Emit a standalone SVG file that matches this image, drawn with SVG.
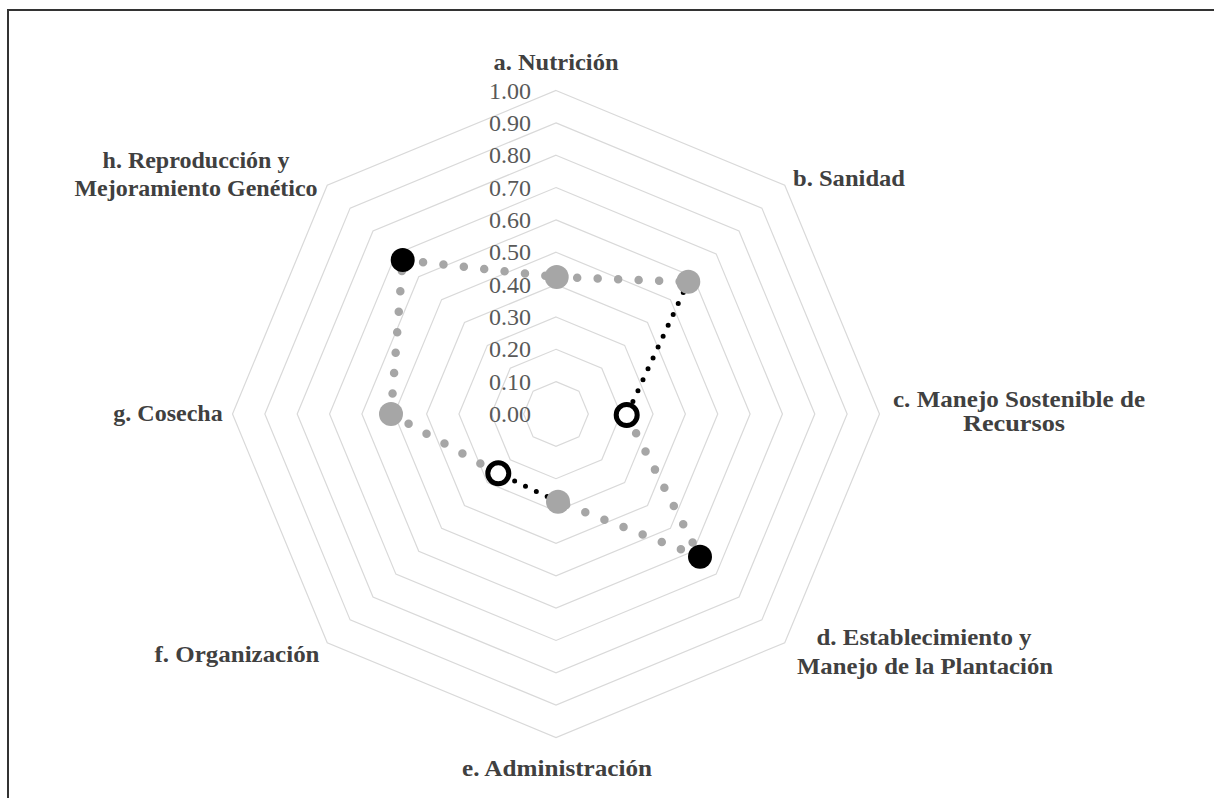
<svg xmlns="http://www.w3.org/2000/svg" width="1214" height="798" viewBox="0 0 1214 798">
<style>
.grid{fill:none;stroke:#d9d9d9;stroke-width:1.2}
.tick{font-family:"Liberation Serif",serif;font-size:24px;fill:#595959;text-anchor:end}
.lbl{font-family:"Liberation Serif",serif;font-size:24px;font-weight:bold;fill:#404040;text-anchor:middle}
.gline{fill:none;stroke:#a6a6a6;stroke-width:8.5;stroke-linecap:round;stroke-dasharray:0 20.5}
.bline{fill:none;stroke:#000;stroke-width:5;stroke-linecap:round;stroke-dasharray:0 12}
.gm{fill:#a6a6a6}
.bm{fill:#000}
.om{fill:#fff;stroke:#000;stroke-width:5}
</style>
<rect width="1214" height="798" fill="#fff"/>
<path d="M8,798 V10 H1214" fill="none" stroke="#333" stroke-width="2"/>
<g id="grid">
<polygon class="grid" points="556,381.65 578.88,391.13 588.35,414 578.88,436.88 556,446.35 533.13,436.88 523.65,414 533.13,391.13"/>
<polygon class="grid" points="556,349.3 601.75,368.25 620.7,414 601.75,459.75 556,478.7 510.25,459.75 491.3,414 510.25,368.25"/>
<polygon class="grid" points="556,316.95 624.62,345.38 653.05,414 624.62,482.62 556,511.05 487.38,482.62 458.95,414 487.38,345.38"/>
<polygon class="grid" points="556,284.6 647.5,322.5 685.4,414 647.5,505.5 556,543.4 464.5,505.5 426.6,414 464.5,322.5"/>
<polygon class="grid" points="556,252.25 670.37,299.63 717.75,414 670.37,528.37 556,575.75 441.63,528.37 394.25,414 441.63,299.63"/>
<polygon class="grid" points="556,219.9 693.25,276.75 750.1,414 693.25,551.25 556,608.1 418.75,551.25 361.9,414 418.75,276.75"/>
<polygon class="grid" points="556,187.55 716.12,253.88 782.45,414 716.12,574.12 556,640.45 395.88,574.12 329.55,414 395.88,253.88"/>
<polygon class="grid" points="556,155.2 739,231 814.8,414 739,597 556,672.8 373,597 297.2,414 373,231"/>
<polygon class="grid" points="556,122.85 761.87,208.13 847.15,414 761.87,619.87 556,705.15 350.13,619.87 264.85,414 350.13,208.13"/>
<polygon class="grid" points="556,90.5 784.75,185.25 879.5,414 784.75,642.75 556,737.5 327.25,642.75 232.5,414 327.25,185.25"/>
</g>
<g id="ticks">
<text class="tick" x="531" y="422">0.00</text>
<text class="tick" x="531" y="389.6">0.10</text>
<text class="tick" x="531" y="357.3">0.20</text>
<text class="tick" x="531" y="325">0.30</text>
<text class="tick" x="531" y="292.6">0.40</text>
<text class="tick" x="531" y="260.2">0.50</text>
<text class="tick" x="531" y="227.9">0.60</text>
<text class="tick" x="531" y="195.5">0.70</text>
<text class="tick" x="531" y="163.2">0.80</text>
<text class="tick" x="531" y="130.8">0.90</text>
<text class="tick" x="531" y="98.5">1.00</text>
</g>
<g id="connectors">
<line class="gline" x1="402.7" y1="260" x2="556.7" y2="277"/>
<line class="gline" x1="556.7" y1="277" x2="688.3" y2="281.7"/>
<line class="bline" x1="688.3" y1="281.7" x2="626.7" y2="415"/>
<line class="gline" x1="626.7" y1="415" x2="700" y2="556.7"/>
<line class="gline" x1="700" y1="556.7" x2="558" y2="501.7"/>
<line class="bline" x1="558" y1="501.7" x2="498.3" y2="473.3"/>
<line class="gline" x1="498.3" y1="473.3" x2="391" y2="414"/>
<line class="gline" x1="391" y1="414" x2="402.7" y2="260"/>
</g>
<g id="node-a"><circle class="gm" cx="556.7" cy="277" r="12"/><text class="lbl" x="556" y="70" textLength="125" lengthAdjust="spacingAndGlyphs">a. Nutrición</text></g>
<g id="node-b"><circle class="gm" cx="688.3" cy="281.7" r="12"/><text class="lbl" x="849" y="186" textLength="112" lengthAdjust="spacingAndGlyphs">b. Sanidad</text></g>
<g id="node-c"><circle class="om" cx="626.7" cy="415" r="10.5"/><text class="lbl" x="1019" y="407" textLength="252" lengthAdjust="spacingAndGlyphs">c. Manejo Sostenible de</text><text class="lbl" x="1014" y="431" textLength="102" lengthAdjust="spacingAndGlyphs">Recursos</text></g>
<g id="node-d"><circle class="bm" cx="700" cy="556.7" r="12"/><text class="lbl" x="924" y="645" textLength="215" lengthAdjust="spacingAndGlyphs">d. Establecimiento y</text><text class="lbl" x="925" y="674" textLength="256" lengthAdjust="spacingAndGlyphs">Manejo de la Plantación</text></g>
<g id="node-e"><circle class="gm" cx="558" cy="501.7" r="12"/><text class="lbl" x="557" y="776" textLength="190" lengthAdjust="spacingAndGlyphs">e. Administración</text></g>
<g id="node-f"><circle class="om" cx="498.3" cy="473.3" r="10.5"/><text class="lbl" x="237" y="662" textLength="165" lengthAdjust="spacingAndGlyphs">f. Organización</text></g>
<g id="node-g"><circle class="gm" cx="391" cy="414" r="12"/><text class="lbl" x="168" y="421">g. Cosecha</text></g>
<g id="node-h"><circle class="bm" cx="402.7" cy="260" r="12"/><text class="lbl" x="196" y="168">h. Reproducción y</text><text class="lbl" x="196" y="196">Mejoramiento Genético</text></g>
</svg>
